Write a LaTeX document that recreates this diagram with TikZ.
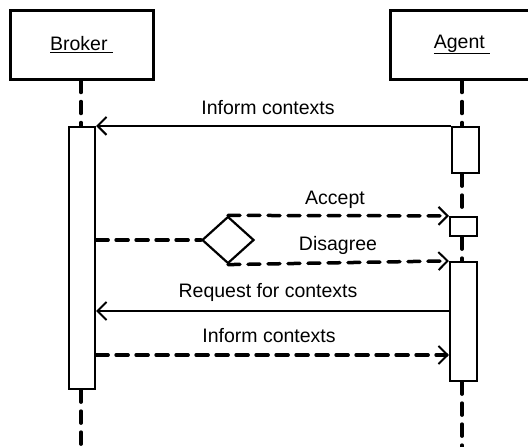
\documentclass[tikz,border=0pt]{standalone}
\usepackage{fontspec}
\setmainfont{Liberation Sans}
\usetikzlibrary{arrows.meta,shapes.geometric}
\begin{document}
\begin{tikzpicture}[x=1pt,y=-1pt,
  every node/.style={font=\fontsize{19.5}{22}\selectfont},
  headbox/.style={draw,line width=3pt,minimum width=143pt,minimum height=69pt,inner sep=0pt},
  actbox/.style={draw,fill=white,line width=2.2pt,inner sep=0pt},
  life/.style={line width=3.5pt,dash pattern=on 12pt off 9pt,line cap=round},
  dline/.style={line width=3.5pt,dash pattern=on 12pt off 8pt,line cap=round},
  msg/.style={line width=2pt,-{Straight Barb[length=9pt,width=18pt,line width=2pt]}},
  dmsg/.style={dline,-{Straight Barb[length=9pt,width=18pt,line width=2pt]}},
  lbl/.style={inner sep=0pt},
  choice/.style={draw,diamond,fill=white,line width=2.2pt,inner sep=0pt,minimum width=52pt,minimum height=47pt}]
\useasboundingbox (0,0) rectangle (528,447);
\clip (0,0) rectangle (528,447);
% heads
\node[headbox] (brk) at (81.5,44.5) {\underline{Broker\ }};
\node[headbox] (agt) at (462,44.5) {\underline{Agent\ }};
% activations
\node[actbox,minimum width=26pt,minimum height=262pt] (brA) at (82,258) {};
\node[actbox,minimum width=27pt,minimum height=46pt] (ag1) at (465.5,150) {};
\node[actbox,minimum width=27pt,minimum height=19pt] (acc) at (463.5,226.5) {};
\node[actbox,minimum width=27pt,minimum height=119pt] (ag2) at (463.5,321.5) {};
\coordinate (bend) at (81,450);
\coordinate (aend) at (462,450);
% lifelines
\draw[life] (brk.south -| 81,0) -- (brA.north -| 81,0);
\draw[life] (brA.south -| 81,0) -- (bend);
\draw[life] (agt.south) -- (ag1.north -| agt.south);
\draw[life] (ag1.south -| agt.south) -- (acc.north -| agt.south);
\draw[life] (acc.south -| agt.south) -- (ag2.north -| agt.south);
\draw[life] (ag2.south -| agt.south) -- (aend);
% redraw activations on top
\node[actbox,minimum width=26pt,minimum height=262pt] at (82,258) {};
\node[actbox,minimum width=27pt,minimum height=46pt] at (465.5,150) {};
\node[actbox,minimum width=27pt,minimum height=19pt] at (463.5,226.5) {};
\node[actbox,minimum width=27pt,minimum height=119pt] at (463.5,321.5) {};
% decision
\node[choice] (dia) at (228,240) {};
% messages
\draw[msg] (ag1.north west) -- (brA.north east);
\node[lbl] (l1) at (268,108) {Inform contexts};
\draw[dline] (brA.east |- dia.west) -- (dia.west);
\draw[dmsg] (dia.north) -- (acc.north west);
\node[lbl] (l2) at (335,200) {Accept};
\draw[dmsg] (dia.south) -- (ag2.north west);
\node[lbl] (l3) at (338,245) {Disagree};
\coordinate (r1) at (0,311);
\draw[msg] (ag2.west |- r1) -- (brA.east |- r1);
\node[lbl] (l4) at (268,292) {Request for contexts};
\coordinate (r2) at (0,355);
\draw[dmsg] (brA.east |- r2) -- (ag2.west |- r2);
\node[lbl] (l5) at (269,336) {Inform contexts};
\end{tikzpicture}
\end{document}
